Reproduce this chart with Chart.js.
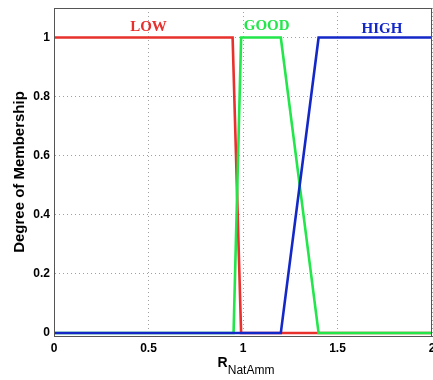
<!DOCTYPE html>
<html>
<head>
<meta charset="utf-8">
<script src="https://cdn.jsdelivr.net/npm/chart.js@4.4.0/dist/chart.umd.min.js"></script>
<style>
html,body{margin:0;padding:0;background:#fff;}
#wrap{width:433px;height:380px;position:relative;}
</style>
</head>
<body>
<div id="wrap"><canvas id="c" width="433" height="380"></canvas></div>
<script>
// Data
const lowX  = [0, 0.945, 0.99, 2];
const lowY  = [1, 1, 0, 0];
const goodX = [0, 0.95, 0.99, 1.2, 1.4, 2];
const goodY = [0, 0, 1, 1, 0, 0];
const highX = [0, 1.2, 1.4, 2];
const highY = [0, 0, 1, 1];
const xTicks = [0, 0.5, 1, 1.5, 2];
const yTicks = [0, 0.2, 0.4, 0.6, 0.8, 1];
const setNames = ['LOW', 'GOOD', 'HIGH'];
const setNameX = [0.5, 1.125, 1.735];
const setNameY = [1.035, 1.04, 1.03];

const colors = ['#e8302c', '#22e64a', '#1428c8'];

function pts(xs, ys){ return xs.map((x,i)=>({x:x,y:ys[i]})); }

const annot = {
  id:'annot',
  afterDraw(chart){
    const ctx = chart.ctx, a = chart.chartArea;
    const xs = chart.scales.x, ys = chart.scales.y;
    ctx.save();
    // frame
    ctx.strokeStyle = '#555';
    ctx.lineWidth = 1;
    ctx.strokeRect(a.left+0.5, a.top+0.5, a.right-a.left-1, a.bottom-a.top);
    // set names
    ctx.font = 'bold 15px "Liberation Serif", "Times New Roman", serif';
    ctx.textAlign = 'center';
    ctx.textBaseline = 'middle';
    setNames.forEach((n,i)=>{
      ctx.fillStyle = colors[i];
      ctx.fillText(n, xs.getPixelForValue(setNameX[i]), ys.getPixelForValue(setNameY[i]));
    });
    // x title with subscript
    ctx.fillStyle = '#000';
    ctx.textAlign = 'left';
    ctx.textBaseline = 'alphabetic';
    ctx.font = 'bold 14px "Liberation Sans", Arial, sans-serif';
    const rW = ctx.measureText('R').width;
    ctx.font = '12px "Liberation Sans", Arial, sans-serif';
    const sW = ctx.measureText('NatAmm').width;
    const startX = (a.left + a.right)/2 - (rW + sW)/2 + 3;
    ctx.font = 'bold 14px "Liberation Sans", Arial, sans-serif';
    ctx.fillText('R', startX, 367);
    ctx.font = '12px "Liberation Sans", Arial, sans-serif';
    ctx.fillText('NatAmm', startX + rW, 374);
    ctx.restore();
  }
};

const gridCfg = {
  color:'#a0a0a0',
  lineWidth:1,
  drawTicks:false
};

new Chart(document.getElementById('c'), {
  type:'line',
  data:{
    datasets:[
      {label:'HIGH', data:pts(highX, highY), borderColor:colors[2], borderWidth:2.6, pointRadius:0, fill:false, tension:0, order:0},
      {label:'GOOD', data:pts(goodX, goodY), borderColor:colors[1], borderWidth:2.6, pointRadius:0, fill:false, tension:0, order:1},
      {label:'LOW',  data:pts(lowX, lowY),   borderColor:colors[0], borderWidth:2.6, pointRadius:0, fill:false, tension:0, order:2}
    ]
  },
  options:{
    responsive:false,
    animation:false,
    devicePixelRatio:1,
    layout:{padding:{top:8, right:1, left:0, bottom:0}},
    plugins:{legend:{display:false}, tooltip:{enabled:false}},
    scales:{
      x:{
        type:'linear', min:0, max:2,
        afterBuildTicks(s){ s.ticks = xTicks.map(v=>({value:v})); },
        afterFit(s){ s.height = 44; s.paddingLeft = 0; s.paddingRight = 0; },
        grid:Object.assign({}, gridCfg),
        border:{display:true, color:'#555', dash:[1,3], width:1},
        ticks:{color:'#000', padding:5, maxRotation:0, autoSkip:false,
          font:{family:'"Liberation Sans", Arial, sans-serif', size:12, weight:'bold'},
          callback:(v)=>String(v)}
      },
      y:{
        type:'linear', min:-0.01, max:1.1,
        afterBuildTicks(s){ s.ticks = yTicks.map(v=>({value:v})); },
        afterFit(s){ s.width = 54; s.paddingTop = 0; s.paddingBottom = 0; },
        grid:Object.assign({}, gridCfg),
        border:{display:true, color:'#555', dash:[1,3], width:1},
        ticks:{color:'#000', padding:4,
          font:{family:'"Liberation Sans", Arial, sans-serif', size:12, weight:'bold'},
          callback:(v)=>String(v)},
        title:{display:true, text:'Degree of Membership', color:'#000',
          font:{family:'"Liberation Sans", Arial, sans-serif', size:15, weight:'bold'},
          padding:{top:11, bottom:0}}
      }
    }
  },
  plugins:[annot]
});
</script>
</body>
</html>
